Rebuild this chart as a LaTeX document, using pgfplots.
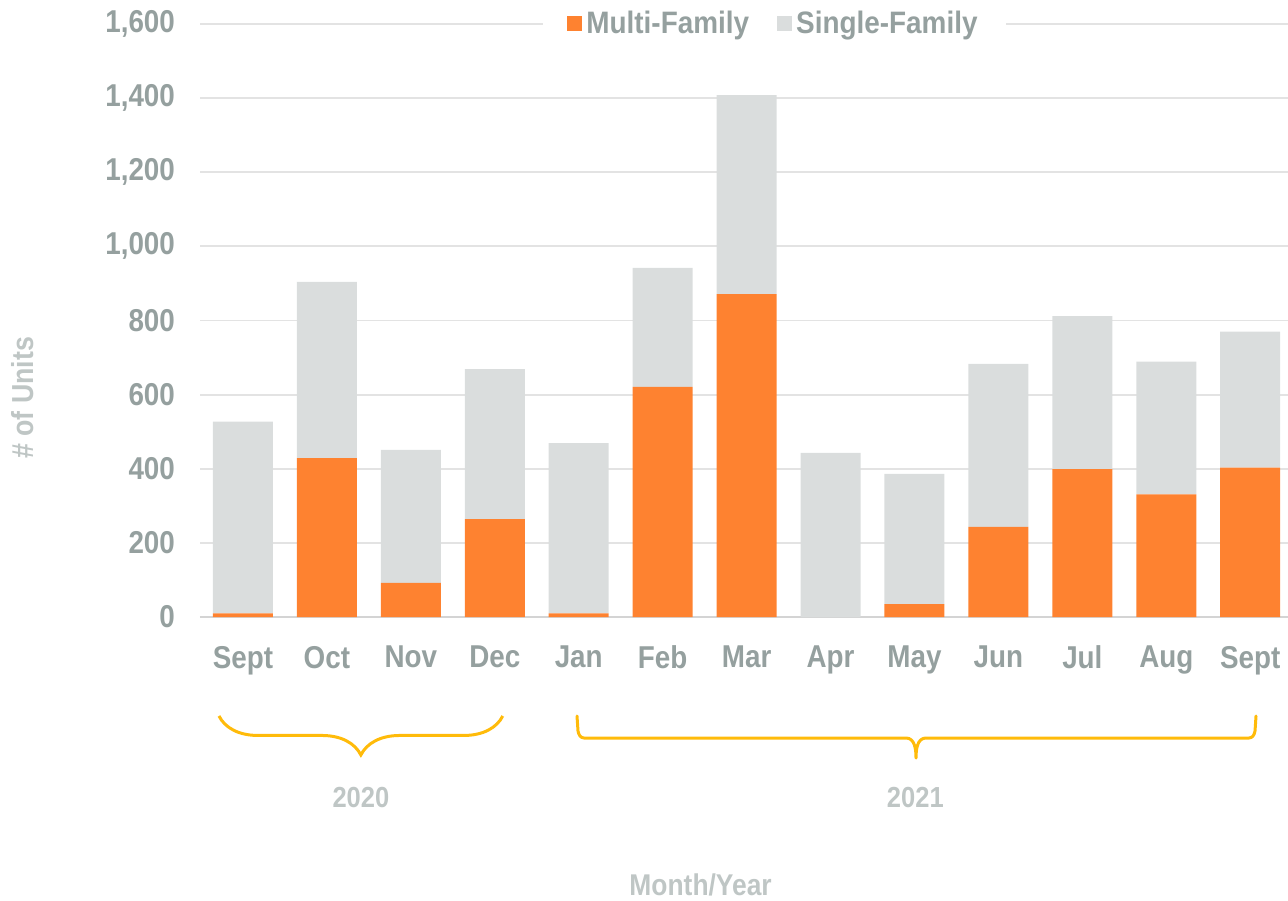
\documentclass[border=0pt]{standalone}
\usepackage{pgfplots}
\pgfplotsset{compat=1.18}
\usepackage{fontspec}
\setmainfont{Liberation Sans}[FakeStretch=0.88]
\newfontfamily\legfont{Liberation Sans}[FakeStretch=0.9]
\usetikzlibrary{decorations.pathreplacing}
\definecolor{mf}{HTML}{FE8230}
\definecolor{sf}{HTML}{DADDDD}
\definecolor{tickc}{HTML}{95A09F}
\definecolor{labc}{HTML}{BFC6C5}
\definecolor{gridc}{HTML}{E3E3E3}
\definecolor{bracec}{HTML}{FFBB0A}
\begin{document}
\begin{tikzpicture}
\begin{axis}[name=ax, scale only axis, width=544pt, height=296.5pt,
  ybar stacked, bar width=30pt,
  xmin=-0.512, xmax=12.45, ymin=0, ymax=1600,
  ytick={0,200,...,1600}, xtick={0,...,12},
  xticklabels={Sept,Oct,Nov,Dec,Jan,Feb,Mar,Apr,May,Jun,Jul,Aug,Sept},
  ymajorgrids, grid style={draw=gridc, line width=0.9pt},
  axis line style={draw=none},
  major tick length=0pt, tick style={draw=none},
  tick label style={font=\bfseries\fontsize{15.8}{18}\selectfont, text=tickc},
  /pgf/number format/assume math mode=true,
  /pgf/number format/1000 sep={,},
  yticklabel style={xshift=-9pt},
  xticklabel style={yshift=-11pt},
  clip=false,
  legend style={at={(0.528,1)}, anchor=center, draw=none, fill=white,
    inner xsep=12pt, inner ysep=2pt,
    font=\legfont\bfseries\fontsize{15.5}{18}\selectfont, text=tickc,
    /tikz/every even column/.append style={column sep=12pt}},
  legend columns=2,
  legend image code/.code={\fill[#1,draw=none] (-2pt,-3.75pt) rectangle (5.5pt,3.75pt);},
]
\addplot[fill=mf, draw=none] coordinates {(0,10)(1,429)(2,92)(3,264)(4,10)(5,621)(6,871)(7,0)(8,35)(9,243)(10,399)(11,331)(12,403)};
\addplot[fill=sf, draw=none] coordinates {(0,517)(1,475)(2,359)(3,405)(4,459)(5,321)(6,537)(7,443)(8,351)(9,440)(10,413)(11,358)(12,367)};
\legend{Multi-Family, Single-Family}
\draw[draw=gridc!85!gray, line width=1pt] (axis cs:-0.512,0) -- (axis cs:12.45,0);
\draw[bracec, line width=1.5pt, decorate, decoration={brace, mirror, amplitude=19.5pt}]
  (axis cs:-0.286,-267) -- (axis cs:3.095,-267);
\node[text=labc, font=\bfseries\fontsize{14.5}{17}\selectfont] at (axis cs:1.405,-488) {2020};
\node[text=labc, font=\bfseries\fontsize{14.5}{17}\selectfont] at (axis cs:8.01,-486) {2021};
\node[text=labc, font=\bfseries\fontsize{15}{18}\selectfont] at (axis cs:5.452,-723) {Month/Year};
\node[text=labc, rotate=90, font=\bfseries\fontsize{15.2}{18}\selectfont] at (axis cs:-2.63,591) {\# of Units};
\end{axis}
\begin{scope}[shift={(ax.south west)}]
\draw[bracec, line width=1.5pt, line cap=round, line join=round]
  (188.5pt,-49.5pt) -- (189pt,-57pt) to[out=-80,in=180] (192pt,-60.5pt) -- (353pt,-60.5pt)
  to[out=0,in=90] (358pt,-70.5pt) to[out=90,in=180] (363pt,-60.5pt) -- (524.5pt,-60.5pt)
  to[out=0,in=-100] (527.5pt,-57pt) -- (528pt,-49.5pt);
\end{scope}
\pgfresetboundingbox
\path[use as bounding box] ([shift={(-100pt,-141.5pt)}]ax.south west) rectangle ([shift={(0pt,12pt)}]ax.north east);
\end{tikzpicture}
\end{document}
